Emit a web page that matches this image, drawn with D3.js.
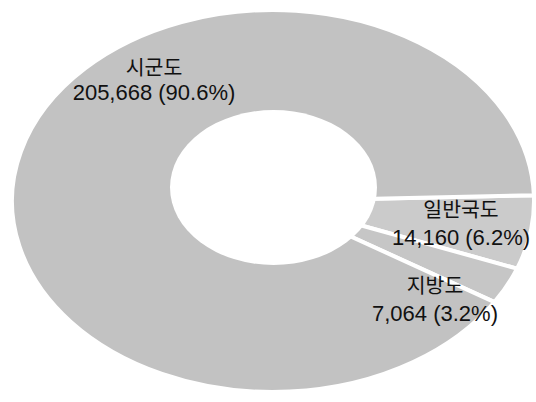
<!DOCTYPE html>
<html>
<head>
<meta charset="utf-8">
<script src="https://cdn.jsdelivr.net/npm/d3@7"></script>
<style>
  html, body { margin: 0; padding: 0; background: #fff; }
  svg { display: block; }
  text { font-family: "Liberation Sans", "Noto Sans CJK KR", sans-serif; fill: #111; }
</style>
</head>
<body>
<svg id="chart" width="536" height="402"></svg>
<script>
// ---- data ----
const categories = ["일반국도", "지방도", "시군도"];
const values = [14160, 7064, 205668];
const percents = ["6.2%", "3.2%", "90.6%"];

// ---- layout / style ----
const outer = { cx: 273, cy: 201, rx: 261, ry: 191 };
const hole = { cx: 273.5, cy: 187.5, rx: 103.5, ry: 77.5 };
const fills = ["#cbcbcb", "#c6c6c6", "#c2c2c2"];
const labelPos = [
  { x: 461, y1: 217, dy: 28 },
  { x: 435, y1: 293, dy: 28 },
  { x: 154, y1: 75, dy: 24.5 }
];

const svg = d3.select("#chart");

const start = Math.PI / 2 - 0.03;
const pie = d3.pie()
  .sort(null)
  .value(d => d)
  .startAngle(start)
  .endAngle(start + 2 * Math.PI);

const arcs = pie(values);
const arc = d3.arc().innerRadius(0).outerRadius(outer.rx);

const g = svg.append("g")
  .attr("transform", `translate(${outer.cx},${outer.cy}) scale(1,${outer.ry / outer.rx})`);

g.selectAll("path.slice")
  .data(arcs)
  .join("path")
  .attr("class", "slice")
  .attr("d", arc)
  .attr("fill", (d, i) => fills[i])
  .attr("stroke", "#fff")
  .attr("stroke-width", 4)
  .attr("vector-effect", "non-scaling-stroke");

// donut hole (perspective: hole sits slightly higher than the rim centre)
svg.append("ellipse")
  .attr("cx", hole.cx)
  .attr("cy", hole.cy)
  .attr("rx", hole.rx)
  .attr("ry", hole.ry)
  .attr("fill", "#fff");

// labels: one text per slice, two lines
const fmt = d3.format(",");
const labels = svg.append("g").attr("text-anchor", "middle");
categories.forEach((c, i) => {
  const t = labels.append("text")
    .attr("x", labelPos[i].x)
    .attr("y", labelPos[i].y1);
  t.append("tspan")
    .attr("x", labelPos[i].x)
    .attr("font-size", 20.5)
    .text(c);
  t.append("tspan")
    .attr("x", labelPos[i].x)
    .attr("dy", labelPos[i].dy)
    .attr("font-size", 22)
    .text(`${fmt(values[i])} (${percents[i]})`);
});
</script>
</body>
</html>
